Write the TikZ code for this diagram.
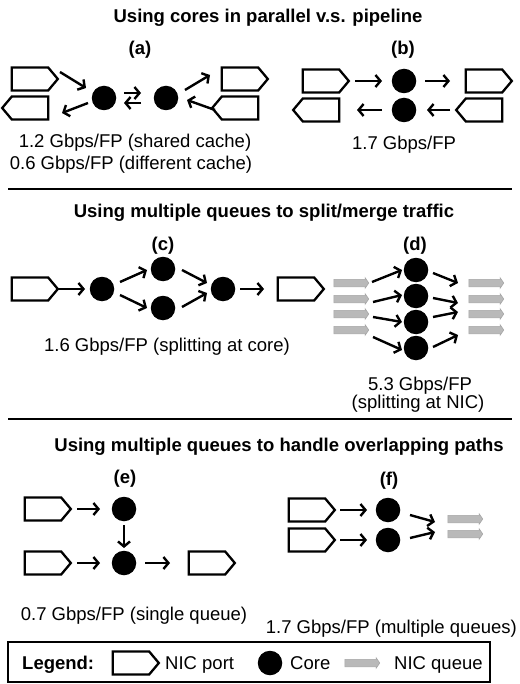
\documentclass[tikz,border=0pt]{standalone}
\usepackage{fontspec}
\setmainfont{Liberation Sans}
\usetikzlibrary{arrows.meta,shapes.symbols,shapes.arrows}
\tikzset{
  txt/.style={font=\fontsize{18.5}{22}\selectfont, inner sep=0pt},
  btxt/.style={font=\fontsize{18.5}{22}\selectfont\bfseries, inner sep=0pt},
  port/.style={signal, draw=black, line width=2.3pt, fill=white, minimum width=46pt, minimum height=23pt, inner sep=0pt, signal pointer angle=100, signal from=nowhere},
  portR/.style={port, signal to=east},
  portL/.style={port, signal to=west},
  core/.style={circle, fill=black, minimum size=24.5pt, inner sep=0pt},
  queue/.style={single arrow, fill=gray!55, draw=gray!70, line width=0.6pt, minimum height=35pt, minimum width=10pt, single arrow head extend=1.6pt, single arrow tip angle=110, inner xsep=0pt, inner ysep=3.4pt},
  arr/.style={line width=2.4pt, -{Straight Barb[length=5pt,width=12pt]}},
  sep/.style={line width=1.6pt},
}
\begin{document}
\begin{tikzpicture}[x=1pt,y=-1pt]
\useasboundingbox (0,0) rectangle (519,684);

% ---------- section 1 ----------
\node[btxt, anchor=base] (t1) at (268,23) {Using cores in parallel v.s. pipeline};
\node[btxt, anchor=base] (la) at (140,55) {(a)};
\node[btxt, anchor=base] (lb) at (403,55) {(b)};

% panel (a)
\node[portR] (pa1) at (30,79) {};
\node[portL] (pa2) at (30,108) {};
\node[portR] (pa3) at (240,79) {};
\node[portL] (pa4) at (240,108) {};
\node[core] (ca1) at (104,98) {};
\node[core] (ca2) at (166,98) {};
\draw[arr] ([shift={(30,-7)}]pa1.center) -- ([shift={(-18,-10)}]ca1.center);
\draw[arr] ([shift={(-16,5)}]ca1.center) -- ([shift={(32,5)}]pa2.center);
\draw[arr] ([shift={(20,-5)}]ca1.center) -- ([shift={(-25,-5)}]ca2.center);
\draw[arr] ([shift={(-25,5)}]ca2.center) -- ([shift={(20,5)}]ca1.center);
\draw[arr] ([shift={(19,-8)}]ca2.center) -- ([shift={(-30,-4)}]pa3.center);
\draw[arr] ([shift={(-25,2)}]pa4.center) -- ([shift={(21,2)}]ca2.center);
\node[txt, anchor=base] (ra1) at (135,148) {1.2 Gbps/FP (shared cache)};
\node[txt, anchor=base] (ra2) at (131,170) {0.6 Gbps/FP (different cache)};

% panel (b)
\node[portR] (pb1) at (321,81) {};
\node[portL] (pb2) at (321,110) {};
\node[portR] (pb3) at (484,81) {};
\node[portL] (pb4) at (484,110) {};
\node[core] (cb1) at (404,81) {};
\node[core] (cb2) at (404,110) {};
\draw[arr] ([shift={(34,0)}]pb1.center) -- ([shift={(-22,0)}]cb1.center);
\draw[arr] ([shift={(21,0)}]cb1.center) -- ([shift={(-34,0)}]pb3.center);
\draw[arr] ([shift={(-22,0)}]cb2.center) -- ([shift={(36,0)}]pb2.center);
\draw[arr] ([shift={(-34,0)}]pb4.center) -- ([shift={(23,0)}]cb2.center);
\node[txt, anchor=base] (rb) at (404,150) {1.7 Gbps/FP};

\draw[sep] (8,189) -- (512,189);

% ---------- section 2 ----------
\node[btxt, anchor=base] (t2) at (264,218) {Using multiple queues to split/merge traffic};
\node[btxt, anchor=base] (lc) at (163,250.5) {(c)};
\node[btxt, anchor=base] (ld) at (415,250.5) {(d)};

% panel (c)
\node[portR] (pc1) at (30,289) {};
\node[portR] (pc2) at (296,289) {};
\node[core] (cc1) at (102,289) {};
\node[core] (cc2) at (163,269) {};
\node[core] (cc3) at (163,308) {};
\node[core] (cc4) at (223,289) {};
\draw[arr] ([shift={(28,0)}]pc1.center) -- ([shift={(-17,0)}]cc1.center);
\draw[arr] ([shift={(18,-7)}]cc1.center) -- ([shift={(-16,1)}]cc2.center);
\draw[arr] ([shift={(18,6)}]cc1.center) -- ([shift={(-16,0)}]cc3.center);
\draw[arr] ([shift={(19,1)}]cc2.center) -- ([shift={(-16,-6)}]cc4.center);
\draw[arr] ([shift={(19,-1)}]cc3.center) -- ([shift={(-16,4)}]cc4.center);
\draw[arr] ([shift={(17,0)}]cc4.center) -- ([shift={(-32,0)}]pc2.center);
\node[txt, anchor=base] (rc) at (167,351) {1.6 Gbps/FP (splitting at core)};

% panel (d)
\foreach \i/\y in {1/283,2/299,3/314,4/330}{
  \node[queue] (qd\i) at (350,\y) {};
}
\foreach \i/\y in {5/283,6/299,7/314,8/330}{
  \node[queue] (qd\i) at (485,\y) {};
}
\node[core] (cd1) at (416,270) {};
\node[core] (cd2) at (416,296) {};
\node[core] (cd3) at (416,322) {};
\node[core] (cd4) at (416,348) {};
\draw[arr] ([shift={(22,-1)}]qd1.center) -- ([shift={(-14,0)}]cd1.center);
\draw[arr] ([shift={(23,3)}]qd2.center) -- ([shift={(-14,-1)}]cd2.center);
\draw[arr] ([shift={(23,3)}]qd3.center) -- ([shift={(-14,0)}]cd3.center);
\draw[arr] ([shift={(23,7)}]qd4.center) -- ([shift={(-14,2)}]cd4.center);
\draw[arr] ([shift={(17,3)}]cd1.center) -- ([shift={(-27,0)}]qd5.center);
\draw[arr] ([shift={(17,2)}]cd2.center) -- ([shift={(-27,4)}]qd6.center);
\draw[arr] ([shift={(17,-5)}]cd3.center) -- ([shift={(-27,-2)}]qd7.center);
\draw[arr] ([shift={(17,-1)}]cd4.center) -- ([shift={(-27,5)}]qd8.center);
\node[txt, anchor=base] (rd1) at (420,390) {5.3 Gbps/FP};
\node[txt, anchor=base] (rd2) at (418,408.5) {(splitting at NIC)};

\draw[sep] (8,419) -- (512,419);

% ---------- section 3 ----------
\node[btxt, anchor=base] (t3) at (279,451) {Using multiple queues to handle overlapping paths};
\node[btxt, anchor=base] (le) at (125,483.5) {(e)};
\node[btxt, anchor=base] (lf) at (389,485.5) {(f)};

% panel (e)
\node[portR] (pe1) at (43,509) {};
\node[portR] (pe2) at (43,563) {};
\node[portR] (pe3) at (207,563) {};
\node[core] (ce1) at (124,509) {};
\node[core] (ce2) at (124,563) {};
\draw[arr] ([shift={(34,0)}]pe1.center) -- ([shift={(-24,0)}]ce1.center);
\draw[arr] ([shift={(0,16)}]ce1.center) -- ([shift={(0,-15)}]ce2.center);
\draw[arr] ([shift={(34,0)}]pe2.center) -- ([shift={(-24,0)}]ce2.center);
\draw[arr] ([shift={(21,0)}]ce2.center) -- ([shift={(-37,0)}]pe3.center);
\node[txt, anchor=base] (re) at (134,620) {0.7 Gbps/FP (single queue)};

% panel (f)
\node[portR] (pf1) at (307,510) {};
\node[portR] (pf2) at (307,540) {};
\node[core] (cf1) at (388,510) {};
\node[core] (cf2) at (388,540) {};
\node[queue] (qf1) at (464,519) {};
\node[queue] (qf2) at (464,534) {};
\draw[arr] ([shift={(33,0)}]pf1.center) -- ([shift={(-21,0)}]cf1.center);
\draw[arr] ([shift={(33,0)}]pf2.center) -- ([shift={(-21,0)}]cf2.center);
\draw[arr] ([shift={(22,5)}]cf1.center) -- ([shift={(-29,3)}]qf1.center);
\draw[arr] ([shift={(22,-2)}]cf2.center) -- ([shift={(-29,-2)}]qf2.center);
\node[txt, anchor=base east] (rf) at (517,633) {1.7 Gbps/FP (multiple queues)};

% ---------- legend ----------
\draw[line width=1.5pt] (8,642) rectangle (490,682);
\node[btxt, anchor=base west] (lg) at (22,669) {Legend:};
\node[portR] (lp) at (131,663) {};
\node[txt, anchor=base west] (lpt) at (165,669) {NIC port};
\node[core] (lcore) at (270,663) {};
\node[txt, anchor=base west] (lct) at (290,669) {Core};
\node[queue] (lq) at (361,663) {};
\node[txt, anchor=base west] (lqt) at (394,669) {NIC queue};
\end{tikzpicture}
\end{document}
